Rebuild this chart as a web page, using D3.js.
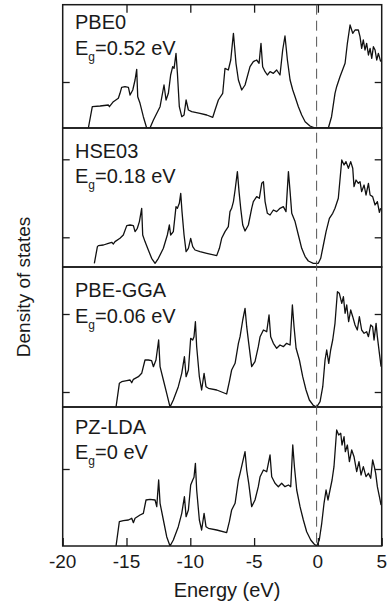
<!DOCTYPE html>
<html>
<head>
<meta charset="utf-8">
<script src="https://cdnjs.cloudflare.com/ajax/libs/d3/7.8.5/d3.min.js"></script>
<style>
body { margin: 0; background: #fff; }
svg { display: block; font-family: "Liberation Sans", Arial, sans-serif; }
</style>
</head>
<body>
<svg id="chart" width="392" height="604"></svg>
<script>
// functionals and their gaps
var methods = ["PBE0", "HSE03", "PBE-GGA", "PZ-LDA"]
var gaps = ["0.52", "0.18", "0.06", "0"]

var xTicks = [-20, -15, -10, -5, 0, 5]
var fermi = -0.1

// density of states, arbitrary units
var pbe0E = [-17.99,-17.68,-17.07,-16.42,-16.34,-16.03,-15.64,-15.51,-15.38,-15.12,-14.85,-14.72,-14.51,-14.33,-14.2,-14.12,-13.94,-13.68,-13.42,-13.16,-12.89,-12.37,-12.06,-11.9,-11.72,-11.54,-11.38,-11.27,-11.12,-11.01,-10.86,-10.67,-10.49,-10.33,-10.15,-9.89,-9.24,-8.71,-8.24,-8.06,-7.8,-7.46,-7.28,-7.02,-6.83,-6.62,-6.42,-6.23,-5.97,-5.71,-5.32,-5.06,-4.8,-4.61,-4.46,-4.33,-4.14,-3.96,-3.75,-3.49,-3.23,-2.97,-2.76,-2.58,-2.39,-2.18,-1.97,-1.79,-1.53,-1.27,-1.0,-0.62,-0.22,0.82,1.07,1.34,1.47,1.73,2.13,2.31,2.52,2.73,2.91,3.17,3.3,3.43,3.56,3.69,3.82,3.96,4.09,4.22,4.35,4.48,4.61,4.74,4.92]
var pbe0Dos = [0,2.13,2.2,2.3,2.13,2.63,2.97,3.47,4.07,4.13,4.07,3.3,3.8,4.8,5.87,3.13,2.47,1.13,0,0,0.8,2.13,4.3,2.8,3.47,5.3,6.13,5.97,7.47,5.47,2.13,1.13,1.3,2.8,1.8,1.63,1.47,1.3,1.07,1.8,2.8,3.47,5.97,5.8,6.8,9.47,6.47,4.8,3.8,4.3,6.13,6.63,6.8,6.47,8.47,6.13,5.63,5.3,5.63,5.47,5.8,5.3,7.8,9.2,6.8,4.8,3.8,3.13,2.13,1.3,0.63,0.2,0,0,1.13,3.47,4.13,5.13,6.47,8.47,10.3,9.47,9.8,9.8,9.13,7.97,8.8,7.8,8.47,7.3,7.97,6.97,8.13,7.8,6.8,7.47,6.63]

var hseE = [-17.52,-17.28,-17.2,-16.81,-16.42,-16.16,-16.03,-15.9,-15.51,-15.25,-14.98,-14.72,-14.46,-14.33,-14.15,-13.99,-13.81,-13.73,-13.55,-13.29,-13.03,-12.76,-12.5,-12.11,-11.8,-11.64,-11.54,-11.33,-11.12,-11.01,-10.86,-10.75,-10.65,-10.49,-10.33,-10.15,-9.97,-9.81,-9.63,-9.24,-8.71,-7.93,-7.72,-7.54,-7.28,-7.02,-6.89,-6.76,-6.62,-6.49,-6.31,-6.18,-6.05,-5.89,-5.71,-5.45,-5.19,-5.06,-4.8,-4.59,-4.4,-4.27,-4.14,-3.96,-3.75,-3.49,-3.23,-2.97,-2.71,-2.5,-2.31,-2.18,-2.05,-1.79,-1.53,-1.27,-1.0,-0.75,-0.36,0.03,0.22,0.43,0.64,0.9,1.16,1.34,1.6,1.87,2.05,2.2,2.39,2.57,2.73,2.83,2.99,3.17,3.3,3.43,3.62,3.77,3.96,4.09,4.29,4.48,4.66,4.82,4.92]
var hseDos = [0,1.67,1.77,1.83,2.0,2.1,1.93,2.17,2.5,2.83,3.77,3.83,3.77,3.17,3.5,4.17,5.5,2.83,2.17,1.33,0.5,0,0.5,1.5,2.83,3.83,2.83,3.17,5.67,5.5,6.0,7.0,5.17,2.83,1.17,1.5,2.5,1.67,1.33,1.17,1.0,0.77,1.5,2.5,3.17,3.67,5.17,5.5,6.17,7.33,9.17,7.17,5.5,3.83,3.23,3.83,5.5,6.17,6.67,6.5,8.0,8.17,6.17,5.0,4.83,5.33,5.17,5.5,5.67,5.17,9.17,7.17,5.0,4.17,2.83,1.5,0.67,0.23,0,0,0.5,1.83,3.17,4.5,5.0,5.5,6.5,10.33,9.83,10.17,9.5,10.17,9.5,7.67,8.33,8.0,8.17,7.17,7.83,6.83,8.0,6.83,6.67,5.83,6.17,5.1,5.5]

var ggaE = [-15.82,-15.56,-15.38,-14.98,-14.72,-14.59,-14.46,-14.07,-13.81,-13.55,-13.29,-13.03,-12.89,-12.69,-12.48,-12.37,-12.11,-11.85,-11.59,-11.33,-10.94,-10.67,-10.46,-10.33,-10.15,-9.97,-9.81,-9.71,-9.6,-9.5,-9.29,-9.11,-8.92,-8.77,-8.58,-7.93,-7.15,-6.94,-6.76,-6.49,-6.23,-6.1,-5.89,-5.71,-5.58,-5.42,-5.19,-4.93,-4.67,-4.53,-4.27,-4.01,-3.83,-3.7,-3.49,-3.23,-2.97,-2.71,-2.45,-2.18,-2.0,-1.87,-1.71,-1.45,-1.19,-0.93,-0.67,-0.36,-0.1,0.17,0.38,0.56,0.69,0.85,1.0,1.16,1.34,1.53,1.68,1.87,2.0,2.13,2.26,2.41,2.57,2.73,2.91,3.09,3.25,3.43,3.62,3.82,3.96,4.14,4.29,4.4,4.56,4.66,4.82,4.95]
var ggaDos = [0,2.37,2.53,2.63,2.7,2.43,2.77,3.03,3.37,4.7,4.7,4.63,4.03,4.7,6.7,4.03,2.7,1.37,0,0.7,2.03,3.37,5.03,3.03,3.7,6.87,6.7,7.03,8.53,6.03,3.03,1.7,3.37,2.03,1.87,1.7,1.3,2.53,3.7,4.37,6.37,7.03,8.7,9.87,8.03,6.37,4.03,4.53,6.03,7.03,7.7,7.53,9.2,7.03,6.37,5.87,6.2,6.03,6.37,6.2,10.2,8.03,5.87,4.7,3.03,1.7,0.7,0.17,0,0.53,2.03,4.7,5.7,4.37,5.7,6.7,8.37,11.53,11.37,10.37,11.03,9.37,10.2,8.53,9.7,9.03,8.2,7.7,9.03,7.7,7.37,7.53,7.03,8.2,8.03,6.7,8.37,7.03,5.37,4.03]

var ldaE = [-15.82,-15.56,-15.25,-14.85,-14.59,-14.46,-14.33,-13.94,-13.68,-13.47,-13.16,-12.76,-12.63,-12.48,-12.37,-12.11,-11.85,-11.59,-11.33,-10.94,-10.67,-10.46,-10.33,-10.15,-9.97,-9.81,-9.71,-9.6,-9.5,-9.29,-9.11,-8.92,-8.77,-8.58,-7.93,-7.15,-6.94,-6.76,-6.49,-6.23,-6.1,-5.89,-5.71,-5.58,-5.42,-5.19,-4.93,-4.67,-4.53,-4.27,-4.01,-3.75,-3.62,-3.36,-3.1,-2.84,-2.58,-2.31,-2.13,-1.97,-1.84,-1.66,-1.4,-1.14,-0.88,-0.56,-0.3,-0.1,0.11,0.3,0.48,0.64,0.79,0.95,1.11,1.26,1.47,1.63,1.79,1.89,2.05,2.15,2.31,2.47,2.65,2.83,3.04,3.22,3.38,3.56,3.77,3.96,4.14,4.29,4.42,4.53,4.66,4.82,4.95]
var ldaDos = [0,2.43,2.53,2.6,2.77,2.33,2.77,3.1,3.27,4.6,4.67,4.6,3.93,6.6,4.27,2.6,0.93,0,0.6,1.93,3.27,4.93,2.93,3.6,6.1,6.6,6.87,8.27,5.6,2.6,1.6,3.27,1.93,1.77,1.6,1.33,2.43,3.6,4.27,6.6,7.27,8.43,9.43,7.6,6.27,3.93,4.6,5.93,6.93,7.6,7.43,9.1,6.93,6.27,5.93,6.27,5.93,6.1,5.93,10.1,7.93,5.6,3.93,2.6,1.43,0.6,0.2,0,0.6,2.27,4.27,5.6,4.6,5.6,6.6,7.93,11.6,11.1,11.27,10.1,10.93,9.43,10.1,8.43,9.6,8.93,7.43,8.43,7.1,7.93,6.93,7.27,6.77,8.6,7.93,7.27,5.93,4.93,4.1]

var energies = [pbe0E, hseE, ggaE, ldaE]
var dos = [pbe0Dos, hseDos, ggaDos, ldaDos]
var yLow = [0, -0.37, 0, 0]
var yTicks = [[4.6], [2.6, 10.4], [1.5, 9.3], [7.7]]

// layout
var left = 62.7, right = 381.7
var edges = [4.7, 128, 267, 407, 546]
var labelY = [[24.6, 50.3], [30, 55.3], [30.3, 55.7], [26.6, 51.6]]
var ink = "#1a1a1a"

var svg = d3.select("#chart")

var x = d3.scaleLinear()
    .domain([-20, 5])
    .range([left, right])

methods.forEach(function(name, i) {
  var top = edges[i], bottom = edges[i + 1]
  var y = d3.scaleLinear()
      .domain([yLow[i], yLow[i] + (bottom - top) / 10])
      .range([bottom, top])

  var g = svg.append("g")

  g.append("clipPath")
      .attr("id", "clip" + i)
    .append("rect")
      .attr("x", left)
      .attr("y", top)
      .attr("width", right - left)
      .attr("height", bottom - top)

  var pts = energies[i].map((e, k) => [e, dos[i][k]])
  var line = d3.line()
      .x(d => x(d[0]))
      .y(d => y(d[1]))

  g.append("path")
      .datum(pts)
      .attr("clip-path", "url(#clip" + i + ")")
      .attr("fill", "none")
      .attr("stroke", "#111")
      .attr("stroke-width", 1.3)
      .attr("stroke-linejoin", "round")
      .attr("d", line)

  // inward ticks on both sides
  g.append("g")
      .attr("transform", `translate(${left},0)`)
      .call(d3.axisRight(y).tickValues(yTicks[i]).tickSize(7).tickFormat(""))
      .call(a => a.select(".domain").remove())
  g.append("g")
      .attr("transform", `translate(${right},0)`)
      .call(d3.axisLeft(y).tickValues(yTicks[i]).tickSize(7).tickFormat(""))
      .call(a => a.select(".domain").remove())

  g.append("rect")
      .attr("x", left)
      .attr("y", top)
      .attr("width", right - left)
      .attr("height", bottom - top)
      .attr("fill", "none")
      .attr("stroke", ink)
      .attr("stroke-width", 1.5)

  g.append("text")
      .attr("x", 75)
      .attr("y", top + labelY[i][0])
      .attr("font-size", 20)
      .attr("fill", ink)
      .text(name)

  var t = g.append("text")
      .attr("x", 75)
      .attr("y", top + labelY[i][1])
      .attr("font-size", 20)
      .attr("fill", ink)
  t.append("tspan").text("E")
  t.append("tspan").attr("font-size", 12).attr("dy", 6).text("g")
  t.append("tspan").attr("dy", -6).text("=" + gaps[i] + " eV")
})

svg.selectAll(".tick line").attr("stroke", ink).attr("stroke-width", 1.3)

// x ticks on top of first panel and bottom of last one
svg.append("g")
    .attr("transform", `translate(0,${edges[0]})`)
    .call(d3.axisBottom(x).tickValues(xTicks.slice(1, 5)).tickSize(8).tickFormat(""))
    .call(a => a.select(".domain").remove())
    .selectAll("line").attr("stroke", ink).attr("stroke-width", 1.3)

var xAxis = svg.append("g")
    .attr("transform", `translate(0,${edges[4]})`)
    .call(d3.axisTop(x).tickValues(xTicks).tickSize(8).tickFormat(""))
    .call(a => a.select(".domain").remove())
xAxis.selectAll("line").attr("stroke", ink).attr("stroke-width", 1.3)

svg.append("g")
    .selectAll("text")
    .data(xTicks)
    .join("text")
      .attr("x", d => x(d))
      .attr("y", 568)
      .attr("text-anchor", "middle")
      .attr("font-size", 19)
      .attr("fill", ink)
      .text(d => d < 0 ? "-" + Math.abs(d) : d)

// Fermi level
svg.append("line")
    .attr("x1", x(fermi))
    .attr("x2", x(fermi))
    .attr("y1", edges[0])
    .attr("y2", edges[4])
    .attr("stroke", "#555")
    .attr("stroke-width", 1)
    .attr("stroke-dasharray", "10,6")

svg.append("text")
    .attr("x", 227)
    .attr("y", 597)
    .attr("text-anchor", "middle")
    .attr("font-size", 20)
    .attr("fill", ink)
    .text("Energy (eV)")

svg.append("text")
    .attr("transform", "translate(29.5,287) rotate(-90)")
    .attr("text-anchor", "middle")
    .attr("font-size", 19)
    .attr("fill", ink)
    .text("Density of states")
</script>
</body>
</html>
